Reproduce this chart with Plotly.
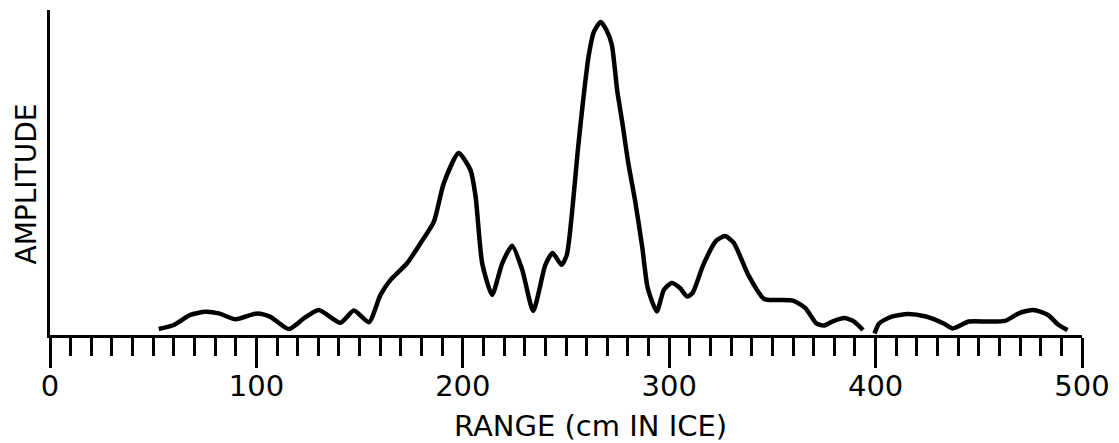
import plotly.graph_objects as go

# Range in ice (cm) and relative amplitude (peak = 100)
range_seg1 = [52.7, 60, 68, 75.3, 81.8, 89.9, 100.4, 106.8, 115.7, 123, 130.2, 140.7,
              147.2, 154.5, 160.1, 165, 173, 179.5, 186, 190.8, 198, 203.7, 206.2,
              209.4, 214.2, 219.1, 223.9, 228.8, 234.1, 240, 243.5, 247.8, 250.4, 253,
              255.7, 258.3, 260.9, 263.5, 266.8, 269.6, 272.2, 274.8, 277.4, 280,
              283.5, 287, 289.6, 294, 297.4, 301.2, 305.2, 308.7, 311.3, 316.5, 322.6,
              327, 331.3, 338.3, 346, 353, 360, 366, 371.3, 374.8, 379, 385, 389.6, 393.9]
amp_seg1 = [1.9, 3.2, 6.4, 7.4, 6.9, 5.0, 6.9, 5.8, 1.9, 5.3, 8.0, 3.9,
            7.8, 4.1, 12.8, 17.6, 22.9, 29.3, 36.2, 48.5, 58.1, 52.7, 44.2,
            22.9, 12.8, 22.9, 28.5, 20.8, 7.7, 22.4, 26.2, 22.4, 25.6, 39.6,
            58.8, 74.9, 88.8, 96.8, 100.0, 97.4, 92.7, 78.1, 67.4, 55.6,
            42.8, 27.8, 15.0, 7.5, 14.4, 16.6, 15.0, 12.3, 13.4, 22.4, 30.0,
            31.6, 29.4, 19.2, 11.5, 11.2, 11.0, 8.6, 3.7, 3.0, 4.3, 5.4, 4.3, 1.6]

range_seg2 = [399.5, 401.7, 407.8, 415.7, 424.3, 433, 437.4, 445.2, 454, 462.6,
              469.6, 476.5, 483.5, 488.7, 493]
amp_seg2 = [0.5, 3.7, 5.9, 6.7, 5.9, 3.7, 2.1, 4.3, 4.3, 4.5,
            7.0, 8.0, 6.4, 3.2, 1.6]

x_ticks = [0, 100, 200, 300, 400, 500]
x_title = "RANGE (cm IN ICE)"
y_title = "AMPLITUDE"

FONT = "DejaVu Sans"

fig = go.Figure()
for xs, ys in [(range_seg1, amp_seg1), (range_seg2, amp_seg2)]:
    fig.add_trace(go.Scatter(
        x=xs, y=ys, mode="lines",
        line=dict(color="black", width=4.5, shape="spline", smoothing=0.6),
        showlegend=False, hoverinfo="skip", cliponaxis=False))

# the page body adds an 8 px offset, so the figure is 8 px smaller than the window
fig.update_layout(
    width=1111, height=435,
    margin=dict(l=42, r=37, t=2, b=108, autoexpand=False),
    paper_bgcolor="white", plot_bgcolor="white",
    font=dict(family=FONT, color="black"),
    xaxis=dict(
        range=[0, 500], tickmode="array", tickvals=x_ticks,
        ticktext=[str(v) for v in x_ticks],
        ticks="outside", ticklen=30, tickwidth=3, tickcolor="black",
        minor=dict(ticks="outside", ticklen=18, tickwidth=3, tickcolor="black",
                   dtick=10, tick0=0, showgrid=False),
        showline=True, linewidth=3, linecolor="black",
        showgrid=False, zeroline=False, automargin=False,
        ticklabelstandoff=-7,
        tickfont=dict(family=FONT, size=29, color="black"),
    ),
    yaxis=dict(
        range=[0, 103.8], showticklabels=False, ticks="",
        showline=True, linewidth=3, linecolor="black",
        showgrid=False, zeroline=False, automargin=False,
    ),
    annotations=[
        dict(text=x_title, xref="paper", yref="paper", x=0.5235, y=-0.28,
             showarrow=False, xanchor="center", yanchor="middle",
             font=dict(family=FONT, size=29, color="black")),
        dict(text=y_title, xref="paper", yref="paper", x=-0.0228, y=0.4646,
             showarrow=False, xanchor="center", yanchor="middle", textangle=-90,
             font=dict(family=FONT, size=28, color="black")),
    ],
)

fig.write_html("out.html")
